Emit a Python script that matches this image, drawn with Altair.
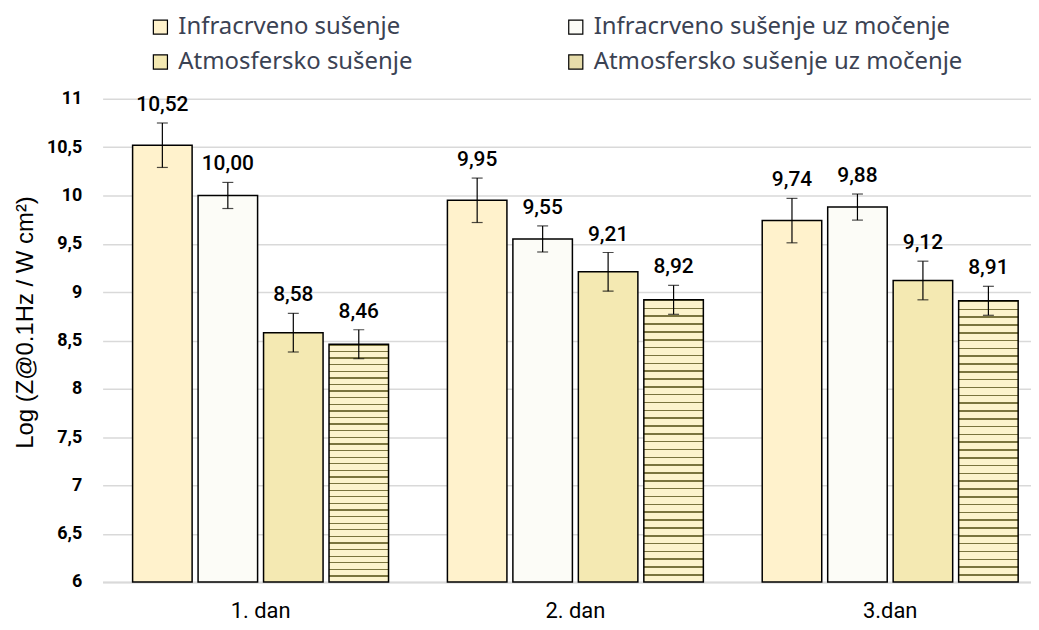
import altair as alt
import pandas as pd

days = ["1. dan", "2. dan", "3.dan"]
series = [
    "Infracrveno sušenje",
    "Infracrveno sušenje uz močenje",
    "Atmosfersko sušenje",
    "Atmosfersko sušenje uz močenje",
]
ir_values = [10.52, 9.95, 9.74]
ir_m_values = [10.00, 9.55, 9.88]
atm_values = [8.58, 9.21, 9.12]
atm_m_values = [8.46, 8.92, 8.91]
ir_err = [0.23, 0.23, 0.23]
ir_m_err = [0.135, 0.135, 0.135]
atm_err = [0.20, 0.20, 0.20]
atm_m_err = [0.15, 0.15, 0.15]

y_ticks = [6, 6.5, 7, 7.5, 8, 8.5, 9, 9.5, 10, 10.5, 11]
colors = ["#FFF2CC", "#FCFCF7", "#F4E9B2", "#E6DCAA"]
legend_order = [series[0], series[2], series[1], series[3]]
legend_colors = [colors[0], colors[2], colors[1], colors[3]]

rows = []
for s, vals, errs in zip(series, [ir_values, ir_m_values, atm_values, atm_m_values],
                         [ir_err, ir_m_err, atm_err, atm_m_err]):
    for d, v, e in zip(days, vals, errs):
        rows.append({"day": d, "series": s, "value": v, "lower": v - e, "upper": v + e})
df = pd.DataFrame(rows)

# brick-like horizontal stripe gradient (style only)
n_rows = 36
stops = []
for i in range(n_rows):
    a = i / n_rows
    b = (i + 0.2) / n_rows
    c = (i + 1) / n_rows
    stops += [
        {"offset": a, "color": "#7A743E"},
        {"offset": b, "color": "#7A743E"},
        {"offset": b, "color": "#FCF3CC"},
        {"offset": c, "color": "#FCF3CC"},
    ]
brick = {"gradient": "linear", "x1": 0, "y1": 0, "x2": 0, "y2": 1, "stops": stops}

x_enc = alt.X("day:N", sort=days, title=None,
              scale=alt.Scale(paddingInner=0.187, paddingOuter=0.068, align=0.7))
xo_enc = alt.XOffset("series:N", sort=series, scale=alt.Scale(paddingInner=0.091, paddingOuter=0))
y_scale = alt.Scale(domain=[6, 11], zero=False, nice=False)

base = alt.Chart(df).encode(x=x_enc, xOffset=xo_enc)

bars = base.mark_bar(stroke="black", strokeWidth=1.5).encode(
    y=alt.Y("value:Q", scale=y_scale,
            axis=alt.Axis(values=y_ticks, labelExpr="replace(toString(datum.value), '.', ',')",
                          title="Log (Z@0.1Hz / W cm²)")),
    y2=alt.datum(6),
    fill=alt.condition(
        "datum.series == 'Atmosfersko sušenje uz močenje'",
        alt.value(brick),
        alt.Color("series:N", scale=alt.Scale(domain=legend_order, range=legend_colors),
                  legend=alt.Legend(title=None, orient="none", legendX=46, legendY=-84,
                                    columns=2, columnPadding=151, rowPadding=11,
                                    symbolType="square", symbolSize=200,
                                    symbolStrokeColor="black", symbolStrokeWidth=1.2,
                                    labelFontSize=24, labelColor="#3B4253",
                                    labelFont="Noto Sans", labelLimit=500, padding=0,
                                    labelOffset=6)),
    ),
)

rules = base.mark_rule(color="black", strokeWidth=1.2).encode(
    y=alt.Y("lower:Q", scale=y_scale), y2="upper:Q")
cap_top = base.mark_tick(color="black", thickness=1.2, size=11).encode(
    y=alt.Y("upper:Q", scale=y_scale))
cap_bot = base.mark_tick(color="black", thickness=1.2, size=11).encode(
    y=alt.Y("lower:Q", scale=y_scale))
labels = base.mark_text(baseline="bottom", dy=-8, fontSize=21, fontWeight=500,
                        font="Roboto", color="black").encode(
    y=alt.Y("upper:Q", scale=y_scale),
    text="label:N",
).transform_calculate(label="replace(format(datum.value, '.2f'), '.', ',')")

chart = alt.layer(bars, rules, cap_top, cap_bot, labels).properties(
    width=932, height=485,
    padding={"left": 95, "top": 90, "right": 0, "bottom": 40},
    autosize=alt.AutoSizeParams(type="none"),
).configure_view(stroke=None).configure_axisY(
    grid=True, gridColor="#D9D9D9", gridWidth=1.5, domain=False, ticks=False,
    labelFont="Roboto", labelFontSize=18, labelFontWeight="bold", labelColor="black",
    labelPadding=21, titleFont="Liberation Sans", titleFontSize=24, titleFontWeight="normal",
    titleColor="black", titleX=-70, titleY=224, titleAngle=270, titleBaseline="alphabetic",
).configure_axisX(
    domain=True, domainColor="#D9D9D9", domainWidth=2, ticks=False, grid=False,
    labelFont="Roboto", labelFontSize=22, labelFontWeight="normal", labelColor="black",
    labelPadding=19, labelAngle=0,
)

chart.save("out.html", embed_options={"renderer": "svg", "actions": False})
